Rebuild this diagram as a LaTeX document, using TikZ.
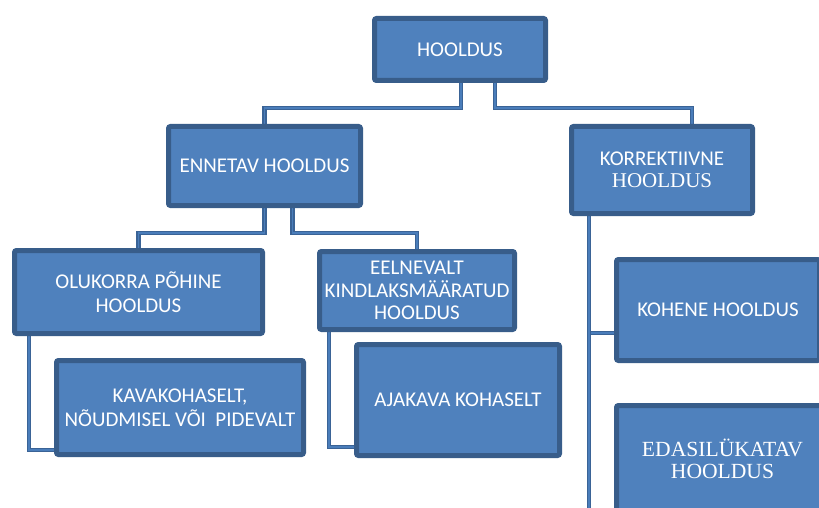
\documentclass[tikz,border=0pt]{standalone}
\usepackage{fontspec}
\setmainfont{Carlito}
\newfontfamily\serifx{Liberation Serif}
\definecolor{boxfill}{HTML}{4F81BD}
\definecolor{boxline}{HTML}{385D8A}
\definecolor{connout}{HTML}{3A6396}
\definecolor{connin}{HTML}{4A7DBA}
\pgfdeclarelayer{bg}
\pgfsetlayers{bg,main}
\begin{document}
\begin{tikzpicture}[x=1pt,y=-1pt,
  box/.style={draw=boxline, fill=boxfill, line width=5pt, rounded corners=2pt,
    text=white, align=center, inner sep=0pt, font=\fontsize{21}{24.3}\selectfont},
  conn/.style={draw=connout, line width=1.6pt, double=connin, double distance=1.5pt}]
\useasboundingbox (0,0) rectangle (819,508);
\clip (0,0) rectangle (819,508);
\node[box, minimum width=171, minimum height=62] (root) at (460,49.5) {HOOLDUS};
\node[box, minimum width=192, minimum height=79] (enn) at (264.5,166) {ENNETAV HOOLDUS};
\node[box, minimum width=181, minimum height=87] (korr) at (662,170) {KORREKTIIVNE\\[-2.6pt]{\serifx HOOLDUS}};
\node[box, minimum width=248, minimum height=83] (olu) at (138.5,292) {OLUKORRA PÕHINE\\HOOLDUS};
\node[box, minimum width=195, minimum height=78] (eel) at (417,290.5) {EELNEVALT\\[-1.5pt]KINDLAKSMÄÄRATUD\\[-1.5pt]HOOLDUS};
\node[box, minimum width=247, minimum height=94] (kava) at (180,407.5) {KAVAKOHASELT,\\NÕUDMISEL VÕI\ \ PIDEVALT};
\node[box, minimum width=203, minimum height=111] (aja) at (458,400) {AJAKAVA KOHASELT};
\node[box, minimum width=203, minimum height=101] (koh) at (718,310) {KOHENE HOOLDUS};
\node[box, minimum width=212, minimum height=107, font=\serifx\fontsize{21.6}{21.7}\selectfont] (edas) at (722.5,459) {EDASILÜKATAV\\HOOLDUS};
% connectors
\begin{pgfonlayer}{bg}
\draw[conn] ([xshift=1]root.south) -- ++(0,25) -| (enn.north);
\draw[conn] ([xshift=35]root.south) -- ++(0,25) -| ([xshift=30]korr.north);
\draw[conn] (enn.south) -- ++(0,25) -| (olu.north);
\draw[conn] ([xshift=28]enn.south) -- ++(0,25) -| (eel.north);
\draw[conn] ([xshift=17]olu.south west) |- ([yshift=7]kava.south west);
\draw[conn] ([xshift=12]eel.south west) |- ([yshift=11]aja.south west);
\draw[conn] ([xshift=20]korr.south west) |- ([yshift=-23]koh.west);
\draw[conn] ([xshift=20]korr.south west) |- ([yshift=-70]edas.west);
\end{pgfonlayer}
\end{tikzpicture}
\end{document}
